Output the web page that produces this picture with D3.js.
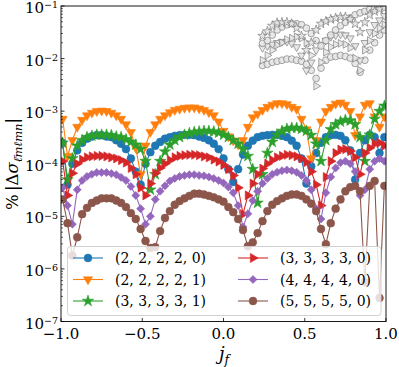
<!DOCTYPE html>
<html><head><meta charset="utf-8">
<script src="https://cdn.jsdelivr.net/npm/d3@7/dist/d3.min.js"></script>
<style>body{margin:0;background:#fff}svg{display:block}text{font-family:"DejaVu Serif",serif;fill:#000}</style>
</head><body>
<svg id="c" width="399" height="367"></svg>
<script>
// ---------------- data ----------------
const jf = [-0.99,-0.96,-0.93,-0.90,-0.87,-0.84,-0.81,-0.78,-0.75,-0.72,-0.69,-0.66,-0.63,-0.60,-0.57,-0.54,-0.51,-0.48,-0.45,-0.42,-0.39,-0.36,-0.33,-0.30,-0.27,-0.24,-0.21,-0.18,-0.15,-0.12,-0.09,-0.06,-0.03,0.00,0.03,0.06,0.09,0.12,0.15,0.18,0.21,0.24,0.27,0.30,0.33,0.36,0.39,0.42,0.45,0.48,0.51,0.54,0.57,0.60,0.63,0.66,0.69,0.72,0.75,0.78,0.81,0.84,0.87,0.90,0.93,0.96,0.99];
const labels = ["(2, 2, 2, 2, 0)","(2, 2, 2, 2, 1)","(3, 3, 3, 3, 1)","(3, 3, 3, 3, 0)","(4, 4, 4, 4, 0)","(5, 5, 5, 5, 0)"];
const mode22220 = [2.5e-4,4.0e-5,1.0e-4,1.8e-4,2.5e-4,3.0e-4,3.3e-4,3.5e-4,3.5e-4,3.3e-4,
 3.2e-4,2.8e-4,2.4e-4,1.9e-4,1.26e-4,7.1e-5,4.0e-5,1.0e-4,1.66e-4,2.2e-4,
 2.6e-4,3.0e-4,3.2e-4,3.4e-4,3.5e-4,3.55e-4,3.55e-4,3.5e-4,3.3e-4,3.1e-4,
 2.8e-4,2.4e-4,1.9e-4,1.26e-4,7.9e-5,4.5e-5,7.9e-5,1.5e-4,2.2e-4,2.75e-4,
 3.2e-4,3.4e-4,3.5e-4,3.55e-4,3.55e-4,3.4e-4,3.2e-4,2.75e-4,2.2e-4,1.26e-4,
 4.2e-5,8.9e-5,1.6e-4,2.5e-4,3.2e-4,3.5e-4,3.55e-4,3.4e-4,2.8e-4,1.8e-4,
 5.0e-5,1.6e-4,2.8e-4,3.55e-4,3.2e-4,1.6e-4,3.2e-4];
const mode22221 = [7.1e-4,1.4e-4,2.8e-4,5.0e-4,6.8e-4,8.3e-4,9.3e-4,1.0e-3,1.02e-3,1.0e-3,
 9.3e-4,8.3e-4,7.1e-4,5.6e-4,4.0e-4,2.0e-4,6.3e-5,2.2e-4,4.0e-4,5.6e-4,
 7.1e-4,8.3e-4,9.5e-4,1.05e-3,1.1e-3,1.15e-3,1.17e-3,1.17e-3,1.12e-3,1.05e-3,
 9.5e-4,8.3e-4,6.3e-4,4.2e-4,3.3e-4,2.75e-4,2.3e-4,2.8e-4,5.0e-4,7.6e-4,
 8.9e-4,1.05e-3,1.2e-3,1.32e-3,1.41e-3,1.41e-3,1.35e-3,1.2e-3,1.1e-3,7.1e-4,
 4.5e-4,1.26e-4,2.8e-4,6.3e-4,1.0e-3,1.2e-3,1.38e-3,1.45e-3,1.32e-3,1.0e-3,
 3.5e-4,7.9e-4,1.32e-3,1.41e-3,7.9e-4,5.0e-4,7.9e-4];
const mode33331 = [2.5e-4,5.0e-5,1.26e-4,2.2e-4,2.8e-4,3.2e-4,3.4e-4,3.55e-4,3.55e-4,3.55e-4,
 3.5e-4,3.3e-4,3.2e-4,2.9e-4,2.6e-4,2.3e-4,1.9e-4,1.12e-4,3.2e-5,6.3e-5,
 1.12e-4,1.7e-4,2.3e-4,2.8e-4,3.2e-4,3.55e-4,3.8e-4,4.0e-4,4.1e-4,4.2e-4,
 4.2e-4,4.1e-4,3.9e-4,3.55e-4,3.2e-4,2.8e-4,2.4e-4,1.9e-4,1.4e-4,7.9e-5,
 1.8e-5,6.3e-5,1.6e-4,2.6e-4,3.55e-4,4.2e-4,4.6e-4,4.8e-4,4.8e-4,4.6e-4,
 4.2e-4,3.5e-4,2.4e-4,1.12e-4,2.8e-4,4.5e-4,5.6e-4,6.3e-4,6.8e-4,6.6e-4,
 5.6e-4,3.2e-4,1.12e-4,3.55e-4,7.1e-4,1.0e-3,1.26e-3];
const mode33330 = [1.12e-4,2.5e-5,6.6e-5,1.0e-4,1.2e-4,1.32e-4,1.38e-4,1.41e-4,1.41e-4,1.38e-4,
 1.32e-4,1.26e-4,1.17e-4,1.05e-4,8.3e-5,6.3e-5,3.5e-5,2.5e-5,4.2e-5,6.6e-5,
 8.3e-5,1.0e-4,1.17e-4,1.32e-4,1.41e-4,1.45e-4,1.48e-4,1.48e-4,1.45e-4,1.38e-4,
 1.32e-4,1.2e-4,1.1e-4,9.5e-5,7.9e-5,6.0e-5,3.5e-5,1.1e-5,2.5e-5,4.2e-5,
 6.3e-5,8.1e-5,1.0e-4,1.17e-4,1.32e-4,1.41e-4,1.48e-4,1.45e-4,1.38e-4,1.26e-4,
 1.07e-4,7.1e-5,4.0e-5,1.6e-5,5.6e-5,1.12e-4,1.6e-4,1.86e-4,1.9e-4,1.74e-4,
 1.32e-4,6.3e-5,1.6e-4,2.0e-4,2.4e-4,2.5e-4,2.2e-4];
const mode44440 = [3.5e-5,1.6e-5,7.1e-6,3.2e-5,4.8e-5,5.75e-5,6.3e-5,6.8e-5,6.8e-5,6.8e-5,
 6.5e-5,6.2e-5,5.5e-5,4.8e-5,3.7e-5,2.5e-5,1.4e-5,7.1e-6,1.0e-5,2.1e-5,
 3.0e-5,3.8e-5,4.7e-5,5.25e-5,5.75e-5,6.0e-5,6.2e-5,6.2e-5,6.0e-5,5.9e-5,
 5.6e-5,5.25e-5,4.8e-5,4.3e-5,3.6e-5,2.8e-5,1.6e-5,6.3e-6,1.12e-5,2.0e-5,
 3.0e-5,4.2e-5,5.25e-5,6.3e-5,6.9e-5,7.4e-5,7.6e-5,7.4e-5,6.9e-5,6.0e-5,
 4.8e-5,3.2e-5,1.4e-5,8.9e-6,2.8e-5,5.6e-5,8.3e-5,1.05e-4,1.12e-4,1.0e-4,
 7.1e-5,2.5e-5,3.2e-5,7.9e-5,1.12e-4,1.26e-4,1.12e-4];
const mode55550 = [2.1e-5,7.4e-6,1.8e-6,4.0e-6,1.1e-5,1.45e-5,1.8e-5,2.0e-5,2.2e-5,2.2e-5,
 2.2e-5,2.0e-5,1.8e-5,1.5e-5,1.15e-5,8.9e-6,5.75e-6,3.4e-6,2.5e-6,2.6e-6,
 5.25e-6,9.3e-6,1.26e-5,1.66e-5,1.95e-5,2.2e-5,2.45e-5,2.7e-5,2.7e-5,2.6e-5,
 2.45e-5,2.3e-5,2.1e-5,1.9e-5,1.5e-5,1.2e-5,8.9e-6,5.5e-6,2.7e-6,3.2e-6,
 4.8e-6,8.1e-6,1.26e-5,1.66e-5,1.95e-5,2.2e-5,2.45e-5,2.6e-5,2.6e-5,2.45e-5,
 2.1e-5,1.74e-5,1.26e-5,5.75e-6,2.95e-6,7.4e-6,1.4e-5,2.1e-5,3.0e-5,3.6e-5,
 3.8e-5,3.0e-5,5.6e-7,3.8e-5,4.7e-5,2.8e-7,3.8e-5];

// background (grey, open markers) modes, only visible for jf > 0.2
const grayJf = [0.24,0.27,0.30,0.33,0.36,0.39,0.42,0.45,0.48,0.51,0.54,0.57,0.60,0.63,0.66,0.69,0.72,0.75,0.78,0.81,0.84,0.87,0.90,0.93,0.96,0.99];
const grayCircleUpper = [1.95e-2,2.2e-2,2.8e-2,3.5e-2,4.0e-2,4.4e-2,4.6e-2,4.6e-2,4.4e-2,3.8e-2,3.0e-2,2.2e-2,1.74e-2,2.2e-2,2.8e-2,3.5e-2,4.2e-2,4.9e-2,5.9e-2,6.8e-2,7.4e-2,7.9e-2,8.7e-2,9.1e-2,9.5e-2,9.8e-2];
const grayCircleLower = [7.4e-3,7.8e-3,8.5e-3,8.9e-3,9.3e-3,9.8e-3,9.8e-3,9.3e-3,8.9e-3,7.8e-3,6.0e-3,4.2e-3,6.6e-3,9.3e-3,1.07e-2,1.1e-2,1.15e-2,1.1e-2,1.02e-2,8.1e-3,5.5e-3,9.3e-3,1.45e-2,2.0e-2,2.8e-2,3.5e-2];
const grayStar = [2.7e-2,3.3e-2,4.2e-2,4.8e-2,4.9e-2,4.9e-2,4.6e-2,3.8e-2,2.7e-2,1.45e-2,2.0e-2,3.5e-2,4.6e-2,5.1e-2,5.6e-2,5.9e-2,6.2e-2,6.2e-2,5.6e-2,4.6e-2,3.2e-2,4.9e-2,6.8e-2,7.9e-2,8.7e-2,9.1e-2];
const grayTriRight = [9.3e-3,1.15e-2,1.45e-2,1.8e-2,2.0e-2,2.3e-2,2.45e-2,2.6e-2,2.45e-2,2.0e-2,1.15e-2,3.0e-3,8.5e-3,1.32e-2,1.66e-2,1.86e-2,1.95e-2,1.86e-2,1.6e-2,1.02e-2,6.0e-3,1.45e-2,2.2e-2,3.0e-2,3.8e-2,4.4e-2];
const grayTriDown = [1.6e-2,1.74e-2,1.86e-2,2.0e-2,2.1e-2,2.1e-2,1.95e-2,1.66e-2,1.15e-2,6.0e-3,8.5e-3,1.45e-2,1.86e-2,2.2e-2,2.6e-2,2.8e-2,2.9e-2,2.8e-2,2.45e-2,1.74e-2,9.3e-3,2.0e-2,3.2e-2,4.4e-2,5.4e-2,6.5e-2];

const xTicks = [-1.0,-0.5,0.0,0.5,1.0];
const xTickLabels = ["\u22121.0","\u22120.5","0.0","0.5","1.0"];
const yTickExps = [-1,-2,-3,-4,-5,-6,-7];

// ---------------- layout ----------------
const L = 61, R = 386, T = 6, B = 321.5;
const svg = d3.select("#c");
const x = d3.scaleLinear().domain([-1, 1]).range([L, R]);
const y = d3.scaleLog().domain([1e-7, 1e-1]).range([B, T]);

svg.append("defs").append("clipPath").attr("id","clip")
  .append("rect").attr("x",L).attr("y",T).attr("width",R-L).attr("height",B-T);

const sym = {
  o: {p: d3.symbol(d3.symbolCircle, 48)(), r: 0},
  v: {p: d3.symbol(d3.symbolTriangle, 36)(), r: 180},
  ">": {p: d3.symbol(d3.symbolTriangle, 36)(), r: 90},
  "*": {p: d3.symbol(d3.symbolStar, 40)(), r: 0},
  D: {p: d3.symbol(d3.symbolSquare, 32)(), r: 45}
};
const gsym = {
  o: {p: d3.symbol(d3.symbolCircle, 36)(), r: 0},
  v: {p: d3.symbol(d3.symbolTriangle, 26)(), r: 180},
  ">": {p: d3.symbol(d3.symbolTriangle, 26)(), r: 90},
  "*": {p: d3.symbol(d3.symbolStar, 28)(), r: 0}
};

const plot = svg.append("g").attr("clip-path","url(#clip)");

// grey background modes
const grays = [
  {v: grayCircleLower, m: "o"},
  {v: grayTriDown, m: "v"},
  {v: grayTriRight, m: ">"},
  {v: grayCircleUpper, m: "o"},
  {v: grayStar, m: "*"}
];
const lineGen = (xs) => d3.line().x((d,i)=>x(xs[i])).y(d=>y(d));
grays.forEach(g => {
  plot.append("path").attr("d", lineGen(grayJf)(g.v)).attr("fill","none")
    .attr("stroke","#c8c8c8").attr("stroke-width",0.5).attr("stroke-opacity",0.5);
  plot.selectAll(null).data(g.v).enter().append("path")
    .attr("d", gsym[g.m].p)
    .attr("transform",(d,i)=>`translate(${x(grayJf[i])},${y(d)}) rotate(${gsym[g.m].r})`)
    .attr("fill","#e4e4e4").attr("fill-opacity",0.85).attr("stroke","#808080").attr("stroke-width",0.7);
});

const series = [
  {v: mode22220, c: "#1f77b4", m: "o"},
  {v: mode22221, c: "#ff7f0e", m: "v"},
  {v: mode33331, c: "#2ca02c", m: "*"},
  {v: mode33330, c: "#d62728", m: ">"},
  {v: mode44440, c: "#9467bd", m: "D"},
  {v: mode55550, c: "#8c564b", m: "o"}
];
series.forEach(s => {
  plot.append("path").attr("d", lineGen(jf)(s.v)).attr("fill","none")
    .attr("stroke", s.c).attr("stroke-width",1.1);
  plot.selectAll(null).data(s.v).enter().append("path")
    .attr("d", sym[s.m].p)
    .attr("transform",(d,i)=>`translate(${x(jf[i])},${y(d)}) rotate(${sym[s.m].r})`)
    .attr("fill", s.c).attr("stroke", s.c).attr("stroke-width",0.6);
});

// ---------------- axes ----------------
const ax = svg.append("g");
for (let e = -7; e < -1; e++) {
  for (let k = 2; k <= 9; k++) {
    const yy = y(k * Math.pow(10, e));
    ax.append("line").attr("x1",L).attr("x2",L+2).attr("y1",yy).attr("y2",yy)
      .attr("stroke","#000").attr("stroke-width",0.6);
  }
}
yTickExps.forEach(e => {
  const yy = y(Math.pow(10, e));
  ax.append("line").attr("x1",L).attr("x2",L+3.5).attr("y1",yy).attr("y2",yy)
    .attr("stroke","#000").attr("stroke-width",0.8);
  const t = ax.append("text").attr("x",58).attr("y",yy+7).attr("text-anchor","end")
    .style("font-size","15px");
  t.append("tspan").text("10");
  t.append("tspan").attr("dy",-4.8).style("font-size","9.5px").text("\u2212" + (-e));
});
xTicks.forEach((v,i) => {
  const xx = x(v);
  ax.append("line").attr("x1",xx).attr("x2",xx).attr("y1",B).attr("y2",B-3.5)
    .attr("stroke","#000").attr("stroke-width",0.8);
  ax.append("text").attr("x",xx).attr("y",339).attr("text-anchor","middle")
    .style("font-size","15px").text(xTickLabels[i]);
});
ax.append("rect").attr("x",L).attr("y",T).attr("width",R-L).attr("height",B-T)
  .attr("fill","none").attr("stroke","#000").attr("stroke-width",0.9);

// axis labels
const xl = svg.append("text").attr("x",224).attr("y",360).attr("text-anchor","middle")
  .style("font-size","18px").style("font-style","italic");
xl.append("tspan").text("j");
xl.append("tspan").attr("dy",4).style("font-size","12.5px").text("f");

const yl = svg.append("text").attr("transform","translate(18,164) rotate(-90)")
  .attr("text-anchor","middle").style("font-size","16.5px");
yl.append("tspan").text("%\u2009|\u0394");
yl.append("tspan").style("font-style","italic").text("\u03c3");
yl.append("tspan").attr("dy",4).style("font-size","11.5px").style("font-style","italic").text("\u2113\u0304m\u2113mn");
yl.append("tspan").attr("dy",-4).text("|");

// ---------------- legend ----------------
const lg = svg.append("g");
lg.append("rect").attr("x",67.5).attr("y",246.5).attr("width",313.5).attr("height",69)
  .attr("rx",3).attr("fill","#fff").attr("fill-opacity",0.8)
  .attr("stroke","#cccccc").attr("stroke-width",0.9);
series.forEach((s,i) => {
  const col = Math.floor(i/3), row = i%3;
  const x0 = col ? 238 : 73, yy = 258 + row*21.5;
  lg.append("line").attr("x1",x0).attr("x2",x0+30).attr("y1",yy).attr("y2",yy)
    .attr("stroke",s.c).attr("stroke-width",1.1);
  lg.append("path").attr("d",sym[s.m].p)
    .attr("transform",`translate(${x0+15},${yy}) rotate(${sym[s.m].r})`)
    .attr("fill",s.c).attr("stroke",s.c).attr("stroke-width",0.6);
  lg.append("text").attr("x",x0+42).attr("y",yy+5).style("font-size","14px").text(labels[i]);
});
</script>
</body></html>
